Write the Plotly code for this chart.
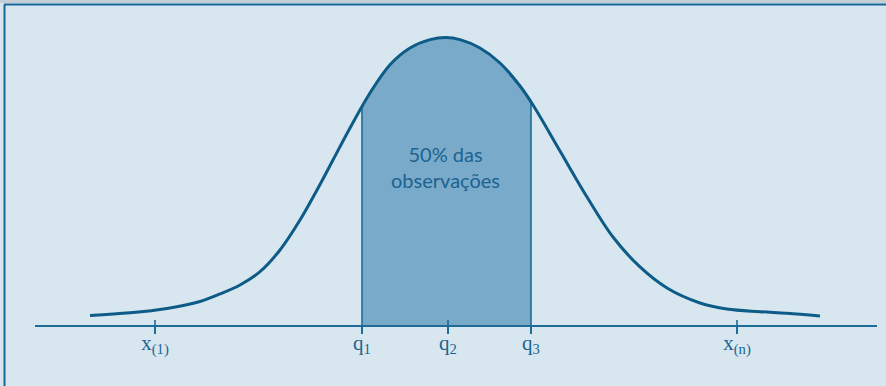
import numpy as np
import plotly.graph_objects as go

# curve (x in spread units, y as density height)
curve_x = [-2.864, -2.544, -2.248, -1.984, -1.824, -1.664, -1.504, -1.344, -1.184, -1.048,
           -0.92, -0.784, -0.624, -0.464, -0.304, -0.144, -0.016, 0.096, 0.256, 0.416,
           0.576, 0.68, 0.896, 1.112, 1.32, 1.536, 1.752, 2.016, 2.232, 2.496, 2.712, 2.976]
curve_y = [0.0132, 0.0169, 0.0229, 0.0326, 0.0431, 0.0556, 0.0740, 0.1042, 0.1458, 0.1875,
           0.2292, 0.2736, 0.3222, 0.3615, 0.3847, 0.3963, 0.3993, 0.3963, 0.3847, 0.3639,
           0.3319, 0.3056, 0.2417, 0.1778, 0.1222, 0.0806, 0.0514, 0.0306, 0.0222, 0.0185,
           0.0163, 0.0125]

tick_vals = [-2.344, -0.688, 0.0, 0.664, 2.312]
tick_text = ["x<sub>(1)</sub>", "q<sub>1</sub>", "q<sub>2</sub>", "q<sub>3</sub>", "x<sub>(n)</sub>"]
q1, q3 = tick_vals[1], tick_vals[3]
label = "50% das<br>observações"

BG = "#d8e6ef"
DARK = "#0d5c87"
AXIS = "#1d6c97"
FILL = "#7aaac9"

fig = go.Figure()

# shaded middle half
inner = [x for x in curve_x if q1 < x < q3]
shade_x = [q1] + inner + [q3]
shade_y = list(np.interp(shade_x, curve_x, curve_y))
fig.add_trace(go.Scatter(x=shade_x, y=shade_y, mode="lines", fill="tozeroy",
                         fillcolor=FILL, line=dict(width=0, shape="spline", smoothing=1.0),
                         hoverinfo="skip"))

# vertical edges at q1 and q3
edge_x, edge_y = [], []
for q, h in zip([q1, q3], [shade_y[0], shade_y[-1]]):
    edge_x += [q, q, None]
    edge_y += [0, h, None]
fig.add_trace(go.Scatter(x=edge_x, y=edge_y, mode="lines",
                         line=dict(color=AXIS, width=1.6), hoverinfo="skip"))

# short tick stubs above the axis for the other marks
stub_x, stub_y = [], []
for t in [tick_vals[0], tick_vals[2], tick_vals[4]]:
    stub_x += [t, t, None]
    stub_y += [0, 0.007, None]
fig.add_trace(go.Scatter(x=stub_x, y=stub_y, mode="lines",
                         line=dict(color=AXIS, width=1.6), hoverinfo="skip"))

# the curve
fig.add_trace(go.Scatter(x=curve_x, y=curve_y, mode="lines",
                         line=dict(color=DARK, width=3, shape="spline", smoothing=1.0),
                         hoverinfo="skip"))

fig.add_annotation(x=-0.024, y=0.219, text=label, showarrow=False,
                   font=dict(family="Lato", size=20, color="#1b6391"))

fig.update_xaxes(domain=[35 / 886, 877 / 886], range=[-3.304, 3.432],
                 showgrid=False, zeroline=False, showline=True, linecolor=AXIS, linewidth=1.5,
                 ticks="outside", ticklen=7, tickwidth=1.6, tickcolor=AXIS,
                 tickvals=tick_vals, ticktext=tick_text, ticklabelstandoff=-9,
                 tickfont=dict(family="Liberation Serif", size=21, color="#1a6590"))
fig.update_yaxes(domain=[61 / 386, 1], range=[0, 0.4514], visible=False)

fig.update_layout(
    width=886, height=386,
    margin=dict(l=0, r=0, t=0, b=0),
    paper_bgcolor=BG, plot_bgcolor=BG,
    showlegend=False,
    shapes=[
        dict(type="rect", xref="paper", yref="paper", x0=0, x1=1, y0=1 - 3 / 386, y1=1,
             fillcolor="#c4ced4", line=dict(width=0)),
        dict(type="line", xref="paper", yref="paper", x0=4 / 886, x1=1,
             y0=1 - 4.5 / 386, y1=1 - 4.5 / 386, line=dict(color="#17689a", width=2)),
        dict(type="line", xref="paper", yref="paper", x0=4.5 / 886, x1=4.5 / 886,
             y0=0, y1=1 - 4.5 / 386, line=dict(color="#17689a", width=2)),
    ],
)

fig.write_html("out.html", config={"displayModeBar": False},
               post_script="document.body.style.margin = '0';")
